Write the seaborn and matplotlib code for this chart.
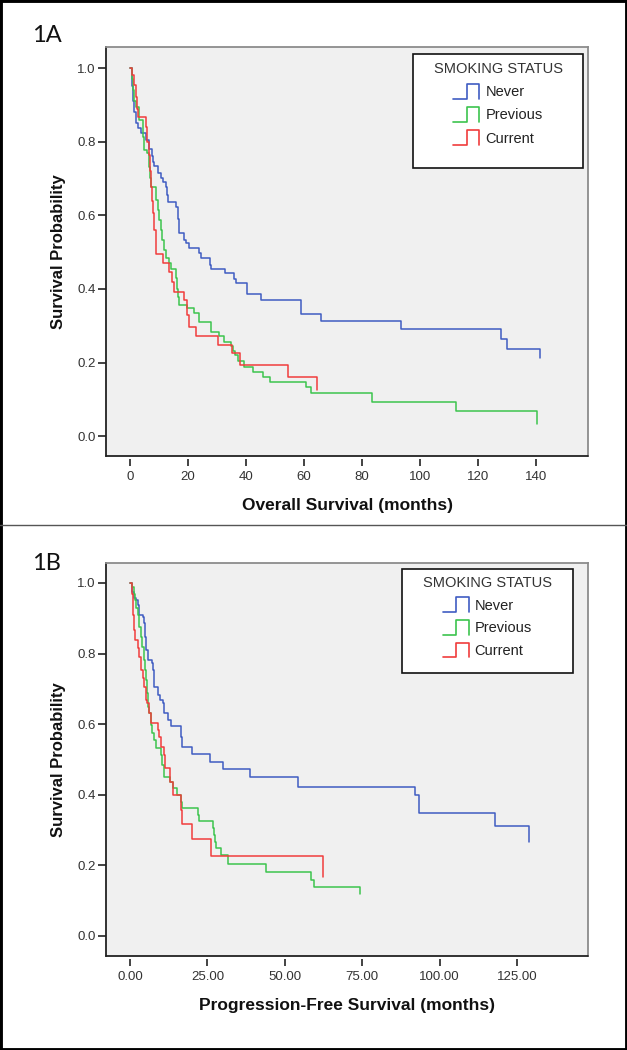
import numpy as np
import pandas as pd
import matplotlib
matplotlib.use("Agg")
import matplotlib.pyplot as plt
import seaborn as sns
from matplotlib.legend_handler import HandlerBase
from matplotlib.lines import Line2D
from matplotlib.patches import Rectangle

# ---------------- data ----------------
groups = ["Never", "Previous", "Current"]
legend_title = "SMOKING STATUS"

# Panel 1A : Overall survival (months)
os_never_t = [0, 0.5, 1.0, 1.5, 2.0, 2.9, 3.7, 5.4, 6.6, 7.7, 8.0, 8.3, 9.8, 10.5, 11.4,
              12.3, 12.8, 13.1, 16.0, 16.5, 16.9, 18.5, 19.2, 20.2, 23.8, 24.4, 27.6, 27.9,
              32.8, 36.0, 36.5, 40.3, 45.0, 59.0, 66.0, 93.5, 128.0, 130.0, 141.5]
os_never_s = [1.0, 0.95, 0.91, 0.88, 0.85, 0.836, 0.823, 0.804, 0.78, 0.76, 0.745, 0.734, 0.715,
              0.70, 0.69, 0.677, 0.655, 0.637, 0.623, 0.59, 0.551, 0.533, 0.524, 0.51, 0.497,
              0.485, 0.466, 0.455, 0.442, 0.428, 0.415, 0.386, 0.37, 0.332, 0.313, 0.29, 0.265,
              0.238, 0.211]
os_prev_t = [0, 0.5, 1.0, 1.5, 2.0, 3.1, 4.3, 4.8, 6.0, 6.6, 6.9, 7.1, 9.1, 9.5, 10.0, 10.5,
             10.9, 11.7, 12.3, 13.5, 14.1, 16.0, 16.3, 16.6, 16.9, 19.5, 22.1, 23.8, 27.9, 30.7,
             32.5, 34.8, 35.6, 36.3, 37.1, 39.4, 42.5, 46.0, 48.2, 60.5, 62.5, 83.4, 112.5, 140.4]
os_prev_s = [1.0, 0.97, 0.94, 0.91, 0.895, 0.86, 0.813, 0.777, 0.768, 0.732, 0.70, 0.677, 0.641,
             0.615, 0.587, 0.56, 0.533, 0.505, 0.484, 0.47, 0.454, 0.429, 0.40, 0.378, 0.356,
             0.348, 0.335, 0.31, 0.283, 0.272, 0.256, 0.245, 0.232, 0.22, 0.205, 0.188, 0.175,
             0.161, 0.146, 0.134, 0.118, 0.093, 0.068, 0.032]
os_curr_t = [0, 0.7, 1.4, 2.0, 2.5, 2.9, 5.4, 6.0, 6.4, 6.8, 7.1, 7.5, 7.8, 8.3, 8.9, 9.1, 11.5,
             13.3, 14.6, 15.2, 18.5, 19.8, 20.4, 22.7, 30.2, 35.0, 38.0, 54.3, 64.4]
os_curr_s = [1.0, 0.98, 0.955, 0.92, 0.89, 0.866, 0.84, 0.80, 0.765, 0.72, 0.677, 0.64, 0.605,
             0.56, 0.519, 0.495, 0.469, 0.447, 0.419, 0.392, 0.37, 0.329, 0.297, 0.272, 0.247,
             0.225, 0.193, 0.161, 0.125]

# Panel 1B : Progression-free survival (months)
pfs_never_t = [0, 0.75, 1.3, 1.8, 2.4, 2.9, 4.0, 4.5, 4.9, 5.1, 5.9, 7.0, 7.4, 7.8, 8.9, 9.6,
               10.5, 11.0, 12.1, 13.2, 16.5, 16.9, 20.1, 25.7, 30.0, 38.6, 54.2, 92.0, 93.4,
               118.0, 128.9]
pfs_never_s = [1.0, 0.975, 0.958, 0.952, 0.938, 0.909, 0.905, 0.886, 0.848, 0.81, 0.782, 0.773,
               0.754, 0.706, 0.683, 0.669, 0.66, 0.631, 0.612, 0.595, 0.565, 0.536, 0.516,
               0.494, 0.472, 0.45, 0.423, 0.40, 0.349, 0.312, 0.267]
pfs_prev_t = [0, 0.75, 1.2, 1.6, 2.0, 2.7, 2.9, 3.5, 3.8, 4.5, 4.9, 5.1, 5.6, 5.9, 6.2, 6.7,
              7.2, 7.8, 8.3, 9.9, 10.3, 11.0, 12.9, 13.9, 15.3, 16.4, 16.9, 21.8, 22.3, 26.7,
              27.2, 27.5, 27.8, 29.4, 31.5, 43.9, 58.5, 59.3, 74.2]
pfs_prev_s = [1.0, 0.99, 0.97, 0.952, 0.928, 0.909, 0.876, 0.848, 0.82, 0.782, 0.754, 0.725,
              0.688, 0.65, 0.631, 0.598, 0.574, 0.555, 0.532, 0.513, 0.484, 0.451, 0.437,
              0.418, 0.40, 0.38, 0.362, 0.343, 0.327, 0.305, 0.286, 0.267, 0.248, 0.229,
              0.203, 0.18, 0.16, 0.14, 0.119]
pfs_curr_t = [0, 0.5, 0.8, 1.0, 1.3, 1.6, 2.4, 2.9, 3.5, 4.0, 4.5, 5.1, 5.6, 6.2, 6.7, 8.9,
              9.4, 9.9, 11.0, 11.3, 12.9, 13.9, 16.5, 16.8, 20.1, 26.0, 62.3]
pfs_curr_s = [1.0, 0.97, 0.94, 0.91, 0.867, 0.839, 0.815, 0.791, 0.754, 0.73, 0.706, 0.669,
              0.659, 0.631, 0.603, 0.584, 0.565, 0.536, 0.513, 0.475, 0.437, 0.40, 0.357,
              0.317, 0.275, 0.227, 0.166]

os_xticks = [0, 20, 40, 60, 80, 100, 120, 140]
os_xticklabels = ["0", "20", "40", "60", "80", "100", "120", "140"]
pfs_xticks = [0, 25, 50, 75, 100, 125]
pfs_xticklabels = ["0.00", "25.00", "50.00", "75.00", "100.00", "125.00"]
yticks = [0.0, 0.2, 0.4, 0.6, 0.8, 1.0]
yticklabels = ["0.0", "0.2", "0.4", "0.6", "0.8", "1.0"]

colors = {"Never": "#3f5cc2", "Previous": "#3cc44e", "Current": "#f03c3c"}


def make_df(series):
    frames = []
    for g, (t, s) in zip(groups, series):
        frames.append(pd.DataFrame({"time": t, "surv": s, "group": g}))
    return pd.concat(frames, ignore_index=True)


df_os = make_df([(os_never_t, os_never_s), (os_prev_t, os_prev_s), (os_curr_t, os_curr_s)])
df_pfs = make_df([(pfs_never_t, pfs_never_s), (pfs_prev_t, pfs_prev_s), (pfs_curr_t, pfs_curr_s)])

# ---------------- style ----------------
sns.set_theme(style="white")
plt.rcParams["font.family"] = ["Liberation Sans", "DejaVu Sans"]


class StepHandler(HandlerBase):
    def create_artists(self, legend, orig_handle, xdescent, ydescent, width, height,
                       fontsize, trans):
        x0, y0 = -xdescent, -ydescent
        xm = x0 + 0.52 * width
        ln = Line2D([x0, xm, xm, x0 + width, x0 + width],
                    [y0, y0, y0 + height, y0 + height, y0],
                    color=orig_handle.get_color(), lw=1.2, transform=trans)
        return [ln]


W, H = 627, 1050
fig = plt.figure(figsize=(W / 100, H / 100), dpi=100)
fig.patch.set_facecolor("white")


def draw_panel(rect_px, df, xlim, ylim, xticks, xticklabels, xlabel, leg_anchor, box, lspace):
    left, top, right, bottom = rect_px
    ax = fig.add_axes([left / W, 1 - bottom / H, (right - left) / W, (bottom - top) / H])
    ax.set_facecolor("#f0f0f0")
    sns.lineplot(data=df, x="time", y="surv", hue="group", hue_order=groups,
                 palette=colors, estimator=None, sort=False, drawstyle="steps-post",
                 legend=False, ax=ax, lw=1.1)
    ax.set_xlim(*xlim)
    ax.set_ylim(*ylim)
    ax.set_xticks(xticks)
    ax.set_xticklabels(xticklabels)
    ax.set_yticks(yticks)
    ax.set_yticklabels(yticklabels)
    ax.tick_params(axis="y", direction="out", length=5.8, width=1.2, pad=1.5,
                   colors="#222222", labelcolor="#333333", labelsize=9.5, left=True)
    ax.tick_params(axis="x", direction="out", length=5.0, width=1.2, pad=4,
                   colors="#222222", labelcolor="#333333", labelsize=9.5, bottom=True)
    # frame
    ax.spines["left"].set_color("#222222")
    ax.spines["left"].set_linewidth(1.3)
    for s in ("top", "right"):
        ax.spines[s].set_color("#8c8c8c")
        ax.spines[s].set_linewidth(1.3)
    ax.spines["bottom"].set_position(("outward", 1.8))
    ax.spines["bottom"].set_color("none")
    ax.plot([0, 1], [0, 0], transform=ax.transAxes, color="#222222", lw=1.3,
            clip_on=False, zorder=3)
    ax.set_xlabel(xlabel, fontsize=12.5, fontweight="bold", color="#111111", labelpad=10.5)
    ax.set_ylabel("Survival Probability", fontsize=12, fontweight="bold",
                  color="#111111", labelpad=8)
    # legend box
    bx0, by0, bx1, by1 = box
    ax.add_patch(Rectangle((bx0, by0), bx1 - bx0, by1 - by0, transform=ax.transAxes,
                           facecolor="white", edgecolor="#111111", lw=1.2, zorder=4,
                           clip_on=False))
    handles = [Line2D([], [], color=colors[g]) for g in groups]
    leg = ax.legend(handles, groups, title=legend_title, loc="upper center",
                    bbox_to_anchor=leg_anchor, frameon=False, borderpad=0,
                    handlelength=1.78, handleheight=1.2, handletextpad=0.42,
                    labelspacing=lspace, fontsize=10.5, title_fontsize=10.5,
                    handler_map={Line2D: StepHandler()})
    leg.set_zorder(5)
    for t in leg.get_texts():
        t.set_color("#222222")
    leg.get_title().set_color("#333333")
    return ax


# Panel A: axes px (left, top, right, bottom)
rA = (106, 46.7, 588, 456)
hA = rA[3] - rA[1]
wA = rA[2] - rA[0]
boxA = ((412.7 - 106) / wA, (456 - 168) / hA, (583 - 106) / wA, (456 - 54) / hA)
ancA = ((498 - 106) / wA, (456 - 54.5) / hA)
axA = draw_panel(rA, df_os, (-8.3, 157.9), (-0.054, 1.058), os_xticks, os_xticklabels,
                 "Overall Survival (months)", ancA, boxA, 0.54)

rB = (106, 562.7, 588, 956)
hB = rB[3] - rB[1]
wB = rB[2] - rB[0]
boxB = ((401.7 - 106) / wB, (956 - 673.3) / hB, (573 - 106) / wB, (956 - 569) / hB)
ancB = ((487.3 - 106) / wB, (956 - 569.0) / hB)
axB = draw_panel(rB, df_pfs, (-7.8, 148.0), (-0.0567, 1.0575), pfs_xticks, pfs_xticklabels,
                 "Progression-Free Survival (months)", ancB, boxB, 0.49)

# panel labels
fig.text(32 / W, 1 - 36 / H, "1A", fontsize=17, va="center", ha="left",
         family=["Lato", "DejaVu Sans"], color="#111111")
fig.text(32 / W, 1 - 563.5 / H, "1B", fontsize=17, va="center", ha="left",
         family=["Lato", "DejaVu Sans"], color="#111111")

# divider and outer border
fig.add_artist(Line2D([0, 1], [1 - 525 / H, 1 - 525 / H], transform=fig.transFigure,
                      color="#555555", lw=1.0))
fig.add_artist(Rectangle((0, 0), 1, 1, transform=fig.transFigure, fill=False,
                         edgecolor="black", lw=3.5))

fig.savefig("out.png", dpi=100)
